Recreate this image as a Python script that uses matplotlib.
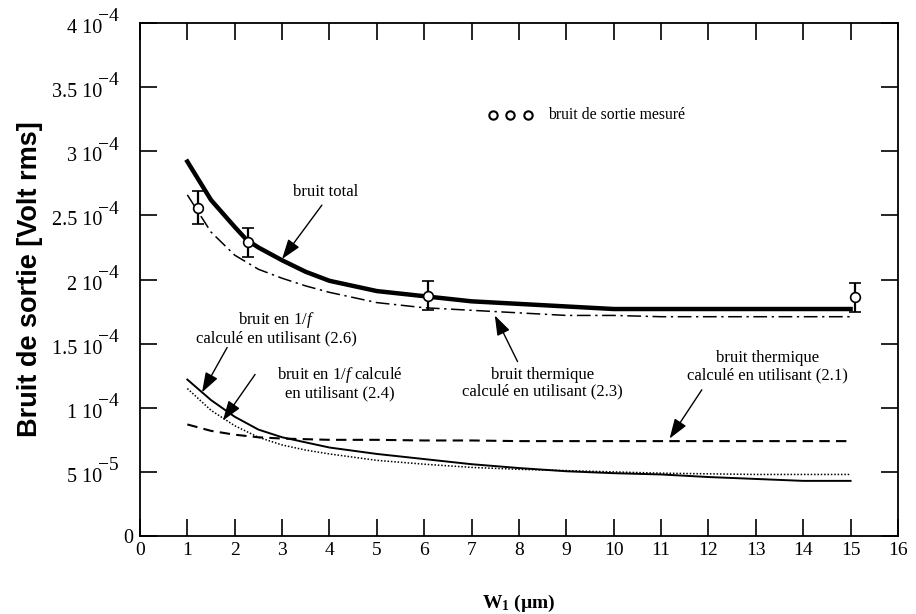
import matplotlib
matplotlib.use("Agg")
import matplotlib.pyplot as plt
from matplotlib.ticker import FixedLocator

plt.rcParams['mathtext.fontset'] = 'custom'
plt.rcParams['mathtext.rm'] = 'Liberation Serif'
plt.rcParams['mathtext.it'] = 'Liberation Serif:italic'
plt.rcParams['mathtext.bf'] = 'Liberation Serif:bold'
plt.rcParams['font.family'] = ['Liberation Serif', 'DejaVu Serif']

# ---- data ----
w_total = [1, 1.5, 2, 2.25, 2.5, 3, 3.5, 4, 5, 6, 7, 8, 9, 10, 11, 12, 13, 14, 15]
total = [2.92e-4, 2.62e-4, 2.41e-4, 2.31e-4, 2.25e-4, 2.15e-4, 2.06e-4, 1.99e-4, 1.91e-4,
         1.87e-4, 1.83e-4, 1.81e-4, 1.79e-4, 1.77e-4, 1.77e-4, 1.77e-4, 1.77e-4, 1.77e-4, 1.77e-4]
w = [1, 1.5, 2, 2.5, 3, 3.5, 4, 5, 6, 7, 8, 9, 10, 11, 12, 13, 14, 15]
thermal_23 = [2.66e-4, 2.37e-4, 2.19e-4, 2.08e-4, 2.01e-4, 1.95e-4, 1.90e-4, 1.82e-4, 1.78e-4,
              1.76e-4, 1.74e-4, 1.72e-4, 1.72e-4, 1.71e-4, 1.71e-4, 1.71e-4, 1.71e-4, 1.71e-4]
flicker_26 = [1.22e-4, 1.06e-4, 9.3e-5, 8.3e-5, 7.7e-5, 7.3e-5, 6.9e-5, 6.4e-5, 6.0e-5,
              5.6e-5, 5.3e-5, 5.05e-5, 4.9e-5, 4.8e-5, 4.6e-5, 4.45e-5, 4.3e-5, 4.3e-5]
flicker_24 = [1.15e-4, 9.8e-5, 8.6e-5, 7.7e-5, 7.1e-5, 6.7e-5, 6.4e-5, 5.9e-5, 5.6e-5,
              5.35e-5, 5.2e-5, 5.1e-5, 5.0e-5, 4.9e-5, 4.85e-5, 4.8e-5, 4.8e-5, 4.8e-5]
thermal_21 = [8.7e-5, 8.2e-5, 7.9e-5, 7.7e-5, 7.6e-5, 7.55e-5, 7.5e-5, 7.5e-5, 7.45e-5,
              7.45e-5, 7.4e-5, 7.4e-5, 7.4e-5, 7.4e-5, 7.4e-5, 7.4e-5, 7.4e-5, 7.4e-5]

meas_w = [1.22, 2.29, 6.08, 15.1]
meas_v = [2.56e-4, 2.29e-4, 1.875e-4, 1.86e-4]
meas_err = [1.3e-5, 1.15e-5, 1.15e-5, 1.1e-5]

xticks = list(range(0, 17))
yticks = [0, 5e-5, 1e-4, 1.5e-4, 2e-4, 2.5e-4, 3e-4, 3.5e-4, 4e-4]
ytick_base = ['0', '5 10', '1 10', '1.5 10', '2 10', '2.5 10', '3 10', '3.5 10', '4 10']
ytick_exp = ['', '\u22125', '\u22124', '\u22124', '\u22124', '\u22124', '\u22124', '\u22124', '\u22124']

fig = plt.figure(figsize=(9.16, 6.14), dpi=100)
ax = fig.add_axes([0.1528, 0.127, 0.8275, 0.8355])

ax.plot(w_total, total, color='black', lw=3.2, solid_joinstyle='round')
ax.plot(w, thermal_23, color='black', lw=1.1, linestyle=(0, (9, 3, 1.5, 3)))
ax.plot(w, flicker_26, color='black', lw=1.4)
ax.plot(w, flicker_24, color='black', lw=1.1, linestyle=(0, (1, 1.2)))
ax.plot(w, thermal_21, color='black', lw=1.5, linestyle=(0, (5, 3)))

ax.errorbar(meas_w, meas_v, yerr=meas_err, fmt='o', color='black', mfc='white',
            mec='black', ms=7, mew=1.2, elinewidth=1.6, capsize=4.5, capthick=1.6, zorder=5)

# legend-like marker row
ax.plot([7.45, 7.82, 8.19], [3.28e-4] * 3, 'o', mfc='white', mec='black', ms=6, mew=1.5,
        linestyle='none')
ax.text(8.62, 3.28e-4, 'bruit de sortie mesuré', fontsize=11.3, va='center', ha='left')

ax.set_xlim(0, 16)
ax.set_ylim(0, 4e-4)
ax.xaxis.set_major_locator(FixedLocator(xticks))
ax.set_xticklabels([str(t) for t in xticks])
ax.yaxis.set_major_locator(FixedLocator(yticks))
ax.set_yticklabels([])
ax.tick_params(axis='both', direction='in', length=12, width=1.2, labelsize=14,
               top=True, right=True)
ax.tick_params(axis='x', pad=4)
for s in ax.spines.values():
    s.set_linewidth(1.3)

# y tick labels with raised exponents
for yv, b, e in zip(yticks, ytick_base, ytick_exp):
    if e:
        ax.annotate(b, xy=(0, yv), xycoords=('axes fraction', 'data'), xytext=(-27, -4),
                    textcoords='offset points', ha='right', va='center', fontsize=14.5)
        ax.annotate(e, xy=(0, yv), xycoords=('axes fraction', 'data'), xytext=(-15.5, 4.5),
                    textcoords='offset points', ha='right', va='center', fontsize=14)
    else:
        ax.annotate(b, xy=(0, yv), xycoords=('axes fraction', 'data'), xytext=(-5, -2),
                    textcoords='offset points', ha='right', va='center', fontsize=14.5)

ax.set_xlabel(r'$\mathbf{W_1}$ (µm)', fontsize=14, fontweight='bold', labelpad=25)
ax.set_ylabel('Bruit de sortie [Volt rms]', fontsize=19.5, fontweight='bold',
              family=['Liberation Sans', 'DejaVu Sans'])
ax.yaxis.set_label_coords(-0.128, 0.5)

ap = dict(arrowstyle='-|>,head_length=1.1,head_width=0.38', mutation_scale=11,
          color='black', lw=1.0, shrinkA=0, shrinkB=0)
fs = 12
ax.text(3.92, 2.68e-4, 'bruit total', fontsize=fs, ha='center', va='center')
ax.annotate('', xy=(3.0, 2.16e-4), xytext=(3.84, 2.58e-4), arrowprops=ap)

ax.text(2.89, 1.62e-4, 'bruit en 1/$\\it{f}$\ncalculé en utilisant (2.6)', fontsize=fs,
        ha='center', va='center', linespacing=1.05)
ax.annotate('', xy=(1.31, 1.12e-4), xytext=(1.84, 1.47e-4), arrowprops=ap)

ax.text(4.22, 1.19e-4, 'bruit en 1/$\\it{f}$ calculé\nen utilisant (2.4)', fontsize=fs,
        ha='center', va='center', linespacing=1.05)
ax.annotate('', xy=(1.75, 9.0e-5), xytext=(2.43, 1.26e-4), arrowprops=ap)

ax.text(8.5, 1.19e-4, 'bruit thermique\ncalculé en utilisant (2.3)', fontsize=fs,
        ha='center', va='center', linespacing=1.05)
ax.annotate('', xy=(7.49, 1.72e-4), xytext=(7.97, 1.36e-4), arrowprops=ap)

ax.text(13.25, 1.32e-4, 'bruit thermique\ncalculé en utilisant (2.1)', fontsize=fs,
        ha='center', va='center', linespacing=1.05)
ax.annotate('', xy=(11.18, 7.6e-5), xytext=(11.86, 1.14e-4), arrowprops=ap)

fig.savefig('out.png', dpi=100)
